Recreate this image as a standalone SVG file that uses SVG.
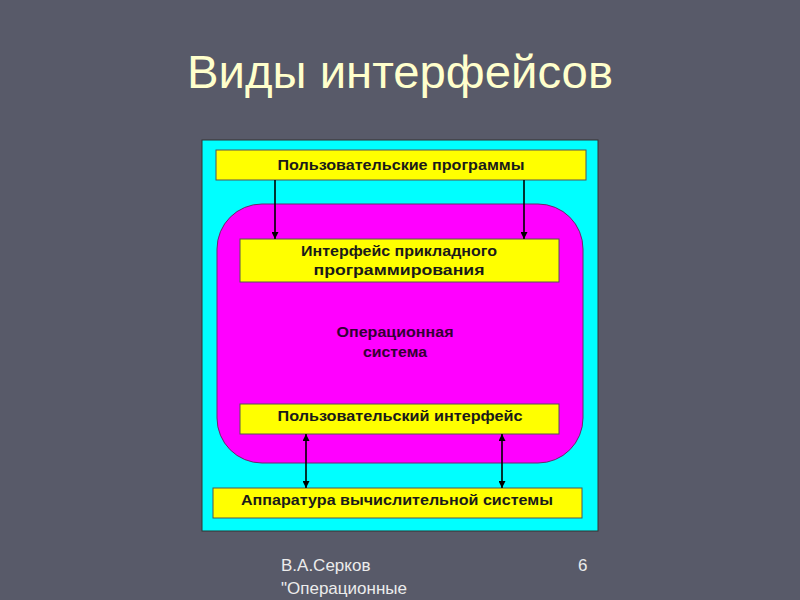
<svg xmlns="http://www.w3.org/2000/svg" width="800" height="600" viewBox="0 0 800 600">
<defs>
<marker id="ah" viewBox="0 0 10 10" refX="10" refY="5" markerWidth="7" markerHeight="7" orient="auto-start-reverse" markerUnits="userSpaceOnUse">
<path d="M0,0 L10,5 L0,10 z" fill="#000"/>
</marker>
<style>
.box{fill:#ffff00;stroke:#555;stroke-width:1}
.lbl{font-family:"Liberation Sans",Arial,sans-serif;font-weight:bold;font-size:14px;fill:#1a1a1a;text-anchor:middle}
.conn{stroke:#000;stroke-width:1.6;fill:none}
.foot{font-family:"Liberation Sans",Arial,sans-serif;font-size:17px;fill:#ececec}
</style>
</defs>
<rect x="0" y="0" width="800" height="600" fill="#585a69"/>
<text x="400" y="88" font-family="'Liberation Sans',Arial,sans-serif" font-size="47" fill="#ffffcc" text-anchor="middle" textLength="426" lengthAdjust="spacingAndGlyphs">Виды интерфейсов</text>
<g id="frame">
<rect x="202" y="140" width="396" height="391" fill="#00ffff" stroke="#333" stroke-width="1"/>
</g>
<g id="os">
<rect x="217" y="204" width="366" height="259" rx="45" ry="45" fill="#ff00ff" stroke="#6a2a6a" stroke-width="1"/>
<text class="lbl" x="395" y="337" style="fill:#330033;font-size:15px" textLength="117" lengthAdjust="spacingAndGlyphs">Операционная</text>
<text class="lbl" x="395" y="357" style="fill:#330033;font-size:15px" textLength="64" lengthAdjust="spacingAndGlyphs">система</text>
</g>
<g id="userprogs">
<rect class="box" x="216" y="150" width="370" height="30"/>
<text class="lbl" x="401" y="170" textLength="247" lengthAdjust="spacingAndGlyphs">Пользовательские программы</text>
</g>
<g id="api">
<rect class="box" x="240" y="239" width="319" height="43"/>
<text class="lbl" x="399" y="256" textLength="196" lengthAdjust="spacingAndGlyphs">Интерфейс прикладного</text>
<text class="lbl" x="399" y="275" textLength="171" lengthAdjust="spacingAndGlyphs">программирования</text>
</g>
<g id="ui">
<rect class="box" x="240" y="404" width="319" height="30"/>
<text class="lbl" x="400" y="421" textLength="245" lengthAdjust="spacingAndGlyphs">Пользовательский интерфейс</text>
</g>
<g id="hw">
<rect class="box" x="213" y="488" width="369" height="30"/>
<text class="lbl" x="397" y="505" textLength="312" lengthAdjust="spacingAndGlyphs">Аппаратура вычислительной системы</text>
</g>
<g id="connectors">
<line class="conn" x1="275" y1="180" x2="275" y2="239" marker-end="url(#ah)"/>
<line class="conn" x1="524" y1="180" x2="524" y2="239" marker-end="url(#ah)"/>
<line class="conn" x1="306" y1="434" x2="306" y2="488" marker-start="url(#ah)" marker-end="url(#ah)"/>
<line class="conn" x1="502" y1="434" x2="502" y2="488" marker-start="url(#ah)" marker-end="url(#ah)"/>
</g>
<g id="footer">
<text class="foot" x="281" y="571">В.А.Серков</text>
<text class="foot" x="281" y="594">"Операционные</text>
<text class="foot" x="578" y="571">6</text>
</g>
</svg>
